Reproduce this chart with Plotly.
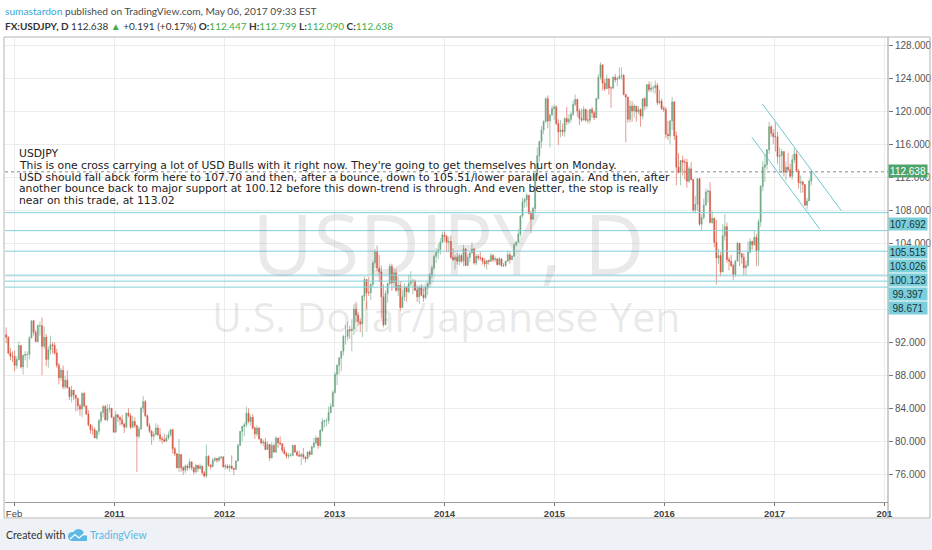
import plotly.graph_objects as go
import pandas as pd

# ---------------- data (weekly bars) ----------------
FIRST_OPEN = 92.9
FIRST_FRIDAY = "2010-01-08"

CLOSE_2010 = [92.6, 90.7, 90.3, 90.3, 89.2, 89.9, 91.6, 89.0, 90.4, 90.5, 90.5, 92.5, 94.6, 93.2, 92.1, 94.0, 94.0, 91.5, 92.6, 89.9, 91.1, 91.7, 91.6, 90.7, 89.2, 87.7, 88.6, 86.6, 87.4, 86.5, 85.4, 86.2, 85.6, 85.2, 84.3, 83.9, 85.8, 84.3, 83.3, 82.0, 81.4, 81.4, 80.4, 81.2, 82.5, 83.5, 84.2, 82.6, 83.9, 84.0, 82.9, 81.1]
HIGH_2010 = [93.8, 92.7, 91.3, 90.9, 91.0, 90.3, 92.1, 91.6, 90.5, 90.9, 90.9, 92.8, 94.6, 94.7, 93.5, 94.2, 94.5, 95.0, 93.9, 93.0, 91.5, 92.8, 92.0, 92.0, 91.2, 89.5, 88.9, 89.2, 87.9, 88.6, 86.6, 86.7, 86.0, 85.6, 85.2, 84.5, 85.9, 86.0, 84.3, 83.8, 82.1, 81.9, 81.7, 81.4, 82.7, 83.7, 84.4, 84.4, 84.5, 84.5, 84.0, 83.0]
LOW_2010 = [91.9, 90.5, 89.8, 89.6, 88.5, 88.8, 89.8, 88.8, 88.1, 89.8, 88.9, 89.9, 92.5, 92.8, 92.0, 92.0, 92.8, 88.0, 91.2, 89.1, 88.9, 90.5, 90.6, 90.5, 88.9, 86.9, 87.3, 86.3, 86.3, 86.4, 85.0, 84.7, 85.0, 83.6, 83.7, 83.1, 82.9, 84.1, 83.2, 81.8, 80.9, 80.8, 80.4, 80.2, 80.8, 82.2, 82.9, 82.5, 82.4, 83.5, 82.8, 81.1]

CLOSE_2011 = [83.2, 82.9, 82.6, 82.1, 81.7, 83.4, 83.1, 81.7, 82.4, 81.9, 80.6, 81.5, 84.0, 84.8, 83.1, 81.9, 81.2, 80.6, 80.8, 81.6, 80.8, 80.3, 80.2, 80.0, 80.4, 80.8, 81.4, 79.1, 78.5, 76.8, 78.4, 76.8, 76.5, 77.0, 76.8, 77.5, 76.8, 76.3, 77.1, 76.7, 77.0, 76.2, 75.8, 78.2, 77.1, 76.9, 77.7, 77.9, 77.7, 78.0, 78.1, 76.9]
HIGH_2011 = [83.7, 83.3, 83.0, 83.2, 82.2, 83.5, 84.0, 83.4, 83.1, 82.9, 82.0, 81.8, 84.2, 85.5, 85.0, 83.2, 82.2, 81.4, 81.2, 82.2, 82.0, 81.6, 80.6, 80.9, 80.8, 81.2, 81.5, 81.5, 79.3, 78.5, 80.3, 78.4, 77.0, 77.2, 77.2, 77.9, 77.6, 76.9, 77.2, 77.1, 77.3, 77.0, 76.4, 79.6, 78.3, 77.2, 78.0, 78.1, 78.0, 78.2, 78.2, 78.2]
LOW_2011 = [81.1, 82.3, 81.9, 81.9, 81.0, 81.6, 82.9, 81.5, 81.6, 81.6, 76.3, 80.3, 81.4, 83.5, 82.9, 81.7, 81.0, 79.6, 80.1, 80.9, 80.6, 80.0, 79.7, 79.9, 80.0, 80.2, 80.6, 78.5, 78.2, 76.7, 76.3, 76.3, 75.9, 76.1, 76.4, 76.6, 76.5, 76.0, 76.1, 76.3, 76.6, 75.9, 75.6, 75.6, 76.9, 76.6, 76.9, 77.5, 77.4, 77.5, 77.8, 76.8]

CLOSE_2012 = [77.0, 76.8, 77.0, 76.7, 76.6, 77.6, 79.5, 81.2, 81.8, 82.0, 83.4, 82.4, 82.9, 81.6, 80.9, 81.6, 80.3, 79.8, 79.9, 79.0, 79.6, 78.0, 79.5, 78.7, 80.4, 79.8, 79.7, 78.9, 78.5, 78.2, 78.3, 78.3, 79.5, 78.7, 78.3, 78.2, 78.4, 78.1, 77.9, 78.7, 78.4, 79.3, 79.8, 80.4, 79.5, 81.3, 82.4, 82.5, 82.5, 83.5, 84.2, 85.9]
HIGH_2012 = [77.2, 77.2, 77.2, 78.3, 76.8, 77.7, 79.7, 81.2, 81.9, 82.3, 84.2, 84.0, 83.2, 83.3, 81.8, 81.9, 81.7, 80.3, 80.2, 80.4, 80.0, 79.7, 79.9, 79.7, 80.6, 80.2, 80.6, 79.8, 79.3, 78.7, 78.6, 78.6, 79.6, 79.6, 78.9, 78.9, 78.6, 79.2, 78.1, 78.8, 78.9, 79.5, 80.4, 80.7, 80.5, 81.5, 82.8, 82.6, 82.8, 84.2, 84.6, 86.2]
LOW_2012 = [76.6, 76.6, 76.3, 76.6, 75.9, 76.5, 77.6, 79.5, 80.0, 80.6, 81.7, 82.2, 81.9, 81.4, 80.3, 80.6, 80.2, 79.6, 79.4, 78.9, 79.0, 77.6, 77.9, 78.6, 78.6, 79.2, 79.5, 78.6, 78.4, 77.9, 77.9, 78.1, 78.2, 78.6, 78.2, 78.1, 77.1, 77.8, 77.4, 77.8, 78.1, 78.4, 79.2, 79.6, 79.1, 79.3, 81.1, 81.7, 81.8, 82.1, 83.4, 84.6]

CLOSE_2013 = [88.1, 89.2, 90.1, 90.9, 92.7, 92.7, 93.5, 93.4, 93.6, 96.0, 95.3, 94.5, 94.2, 97.6, 99.6, 98.0, 98.0, 99.0, 101.6, 103.0, 101.0, 100.5, 97.5, 94.1, 97.9, 99.1, 101.2, 99.2, 100.4, 98.3, 98.9, 96.2, 97.5, 98.7, 98.1, 99.1, 99.4, 99.4, 98.3, 97.5, 98.6, 97.7, 97.4, 98.7, 99.1, 100.2, 101.0, 102.4, 102.9, 103.2, 104.1, 105.0]
HIGH_2013 = [88.4, 89.3, 90.2, 90.9, 92.9, 94.1, 94.5, 94.0, 94.8, 96.6, 96.7, 95.7, 94.9, 97.7, 99.9, 99.5, 99.9, 99.2, 101.9, 103.3, 103.7, 102.6, 101.3, 99.0, 98.3, 99.2, 101.5, 101.5, 100.9, 100.9, 99.9, 99.4, 98.4, 99.1, 98.8, 100.2, 100.6, 99.7, 99.6, 98.7, 98.8, 99.0, 98.5, 98.8, 99.2, 100.4, 101.3, 102.6, 103.4, 103.9, 104.6, 105.4]
LOW_2013 = [85.8, 86.8, 88.1, 88.5, 90.4, 91.7, 92.2, 92.4, 90.9, 92.9, 94.4, 94.0, 93.2, 92.6, 97.0, 96.0, 97.6, 97.1, 98.7, 101.0, 100.6, 99.3, 94.9, 93.8, 94.5, 96.8, 98.9, 98.2, 98.6, 98.1, 97.6, 95.8, 96.4, 97.0, 96.9, 97.9, 98.8, 97.8, 98.2, 96.9, 96.6, 97.6, 96.9, 97.2, 97.7, 98.9, 99.7, 100.8, 101.6, 102.1, 102.6, 104.0]

CLOSE_2014 = [104.8, 104.1, 104.2, 102.3, 102.0, 102.3, 101.8, 102.5, 101.8, 103.3, 101.3, 102.3, 102.8, 103.3, 101.6, 102.4, 102.2, 102.2, 101.8, 101.5, 101.9, 101.8, 102.5, 102.0, 102.1, 101.4, 102.1, 101.3, 101.3, 101.8, 102.6, 102.0, 102.4, 103.8, 104.1, 105.1, 107.3, 109.0, 109.3, 109.8, 107.6, 106.9, 108.2, 112.3, 114.6, 116.3, 117.7, 118.7, 121.5, 118.8, 119.5, 120.3]
HIGH_2014 = [105.4, 105.0, 104.8, 104.9, 103.4, 102.6, 102.8, 102.8, 102.7, 103.8, 103.4, 102.7, 102.9, 104.1, 103.4, 102.7, 102.7, 102.9, 102.3, 102.2, 101.9, 102.0, 102.8, 102.7, 102.4, 102.1, 102.3, 102.0, 101.6, 101.9, 103.1, 102.9, 102.6, 104.0, 104.3, 105.7, 107.4, 109.5, 109.5, 110.1, 109.3, 107.9, 108.4, 112.5, 115.6, 116.4, 118.2, 118.9, 121.7, 121.9, 119.7, 120.7]
LOW_2014 = [104.2, 102.9, 102.9, 102.1, 101.8, 100.8, 101.4, 101.3, 101.6, 101.2, 101.2, 101.2, 101.7, 102.8, 101.4, 101.3, 101.9, 101.9, 101.4, 101.1, 100.8, 101.4, 101.8, 101.7, 101.7, 101.3, 101.3, 101.1, 101.1, 101.1, 101.8, 101.5, 102.0, 102.4, 103.6, 104.1, 104.8, 107.1, 108.3, 108.4, 107.5, 105.2, 106.8, 107.6, 112.1, 113.9, 115.5, 117.2, 118.6, 117.9, 115.6, 119.5]

CLOSE_2015 = [120.5, 118.5, 117.5, 117.7, 117.5, 119.1, 118.7, 119.0, 119.6, 120.8, 121.4, 120.0, 119.1, 118.9, 120.2, 118.9, 118.9, 120.2, 119.8, 119.2, 121.5, 124.1, 125.6, 123.4, 122.7, 123.9, 122.8, 122.8, 124.1, 123.8, 123.9, 124.2, 124.3, 122.0, 121.7, 119.0, 120.6, 120.0, 120.6, 119.9, 120.2, 119.4, 121.5, 120.6, 123.2, 122.6, 122.8, 122.8, 123.1, 121.0, 121.2, 120.3]
HIGH_2015 = [120.8, 120.7, 119.0, 118.9, 118.5, 119.2, 120.5, 119.6, 119.9, 121.3, 122.0, 121.5, 120.3, 120.3, 120.6, 120.3, 120.1, 120.3, 120.5, 120.0, 121.6, 124.5, 125.9, 125.6, 123.9, 124.4, 123.9, 123.0, 124.2, 124.5, 124.2, 125.3, 125.3, 124.5, 122.0, 121.7, 121.3, 121.2, 120.9, 120.6, 120.6, 120.3, 121.5, 121.7, 123.3, 123.6, 123.5, 123.1, 123.7, 123.4, 122.6, 121.5]
LOW_2015 = [118.9, 118.3, 115.9, 116.8, 117.0, 116.9, 118.3, 118.4, 118.6, 119.4, 120.6, 119.3, 118.3, 118.7, 119.2, 118.7, 118.5, 118.5, 119.2, 118.9, 119.3, 121.4, 123.8, 122.5, 122.4, 122.7, 122.0, 120.4, 122.6, 123.5, 123.0, 123.9, 123.8, 121.9, 116.2, 118.6, 118.6, 118.7, 119.2, 118.7, 119.6, 118.1, 119.0, 120.1, 120.3, 122.3, 122.3, 122.2, 122.1, 120.7, 120.8, 120.1]

CLOSE_2016 = [120.2, 117.2, 117.0, 118.8, 121.1, 117.0, 113.2, 112.6, 114.0, 113.8, 113.8, 111.5, 113.0, 111.7, 108.0, 108.7, 111.8, 106.3, 107.1, 108.6, 110.2, 110.3, 106.5, 107.0, 104.1, 102.2, 102.5, 100.5, 104.9, 106.0, 102.0, 101.8, 101.3, 100.2, 101.8, 104.0, 102.7, 102.3, 101.0, 101.3, 102.9, 104.2, 103.8, 104.7, 103.1, 106.6, 110.9, 113.2, 113.5, 115.3, 118.1, 117.3, 116.9]
HIGH_2016 = [120.6, 120.5, 118.8, 118.9, 121.7, 121.2, 117.5, 114.9, 114.1, 114.6, 114.2, 114.2, 113.3, 113.8, 111.8, 109.7, 111.9, 111.9, 107.5, 109.4, 110.6, 110.5, 111.4, 107.9, 107.1, 106.8, 103.3, 102.9, 106.3, 107.5, 106.5, 102.3, 102.6, 101.5, 102.0, 104.2, 104.0, 102.8, 102.8, 101.9, 104.2, 104.6, 104.3, 105.5, 105.1, 106.9, 111.0, 113.9, 114.8, 115.4, 118.7, 118.3, 117.8]
LOW_2016 = [119.9, 116.7, 116.5, 116.0, 117.7, 116.5, 111.0, 112.4, 111.0, 112.2, 111.7, 110.7, 111.3, 111.6, 107.7, 107.6, 107.9, 106.1, 105.5, 106.9, 108.7, 108.9, 106.4, 106.3, 103.5, 99.0, 101.5, 100.0, 100.7, 104.3, 101.6, 100.7, 101.1, 99.5, 99.9, 101.8, 101.2, 101.5, 100.1, 100.1, 101.1, 102.8, 103.2, 103.7, 101.2, 101.2, 106.0, 110.3, 111.4, 112.9, 114.8, 116.9, 116.0]

CLOSE_2017 = [116.9, 114.5, 114.6, 115.1, 112.6, 113.2, 112.9, 112.1, 114.1, 114.8, 112.7, 111.3, 111.4, 111.1, 108.6, 109.1, 111.5, 112.64]
HIGH_2017 = [118.6, 117.5, 115.6, 115.4, 115.1, 113.9, 114.95, 113.6, 114.7, 115.5, 115.2, 113.0, 112.2, 111.6, 111.1, 109.5, 111.8, 112.8]
LOW_2017 = [115.1, 113.6, 112.6, 112.5, 112.1, 111.6, 112.6, 111.9, 111.7, 113.7, 112.6, 110.6, 110.1, 110.1, 108.5, 108.1, 109.3, 111.0]

# horizontal support levels and where their labels sit on the price scale (pixel centre)
LEVELS = [107.692, 105.515, 103.026, 100.123, 99.397, 98.671]
LEVEL_LABEL_Y = [224, 252, 266, 279.5, 293.5, 307.5]
LAST_PRICE = 112.638
LAST_LABEL_Y = 171

# drawn channel (trend lines)
CHANNEL_UPPER = [("2016-11-22", 120.85), ("2017-08-11", 107.93)]
CHANNEL_LOWER = [("2016-10-18", 116.82), ("2017-06-01", 105.68)]

Y_TICKS = [76, 80, 84, 88, 92, 96, 100, 104, 108, 112, 116, 120, 124, 128]
Y_TICKS_HIDDEN = [96, 100]   # covered by the level labels on the price scale
X_TICKS = ["2010-02-01", "2011-01-01", "2012-01-01", "2013-01-01", "2014-01-01",
           "2015-01-01", "2016-01-01", "2017-01-01", "2018-01-01"]
X_TICK_TEXT = ["Feb", "<b>2011</b>", "<b>2012</b>", "<b>2013</b>", "<b>2014</b>",
               "<b>2015</b>", "<b>2016</b>", "<b>2017</b>", "<b>201</b>"]

IDEA_LINES = [
    "USDJPY",
    "This is one cross carrying a lot of USD Bulls with it right now. They're going to get themselves hurt on Monday.",
    "USD should fall abck form here to 107.70 and then, after a bounce, down to 105.51/lower parallel again. And then, after",
    "another bounce back to major support at 100.12 before this down-trend is through. And even better, the stop is really",
    "near on this trade, at 113.02",
]

# ---------------- build bars ----------------
closes = CLOSE_2010 + CLOSE_2011 + CLOSE_2012 + CLOSE_2013 + CLOSE_2014 + CLOSE_2015 + CLOSE_2016 + CLOSE_2017
highs = HIGH_2010 + HIGH_2011 + HIGH_2012 + HIGH_2013 + HIGH_2014 + HIGH_2015 + HIGH_2016 + HIGH_2017
lows = LOW_2010 + LOW_2011 + LOW_2012 + LOW_2013 + LOW_2014 + LOW_2015 + LOW_2016 + LOW_2017
if not (len(closes) == len(highs) == len(lows)):
    raise SystemExit(f"length mismatch {len(closes)} {len(highs)} {len(lows)}")
opens = [FIRST_OPEN] + closes[:-1]
highs = [max(h, o, c) for h, o, c in zip(highs, opens, closes)]
lows = [min(l, o, c) for l, o, c in zip(lows, opens, closes)]
dates = pd.date_range(FIRST_FRIDAY, periods=len(closes), freq="W-FRI") - pd.Timedelta(days=2)

# ---------------- geometry helpers (pixel -> paper) ----------------
W, H = 932, 550
L, R, T, B = 5, 888, 38, 502


def PX(px):
    return (px - L) / (R - L)


def PY(py):
    return (B - py) / (B - T)


NARROW = "Liberation Sans Narrow, Liberation Sans, Arial"

fig = go.Figure()
fig.add_trace(go.Candlestick(
    x=dates, open=opens, high=highs, low=lows, close=closes,
    increasing=dict(line=dict(color="#6ba583", width=0.6), fillcolor="#6ba583"),
    decreasing=dict(line=dict(color="#d75442", width=0.6), fillcolor="#d75442"),
    whiskerwidth=0, showlegend=False, hoverinfo="skip"))

shapes = []
# footer background
shapes.append(dict(type="rect", xref="paper", yref="paper", x0=PX(-2), x1=PX(W + 2),
                   y0=PY(519), y1=PY(H + 2), fillcolor="#eef1f5", line=dict(width=0), layer="below"))
# outer frame
shapes.append(dict(type="rect", xref="paper", yref="paper", x0=PX(4), x1=PX(930),
                   y0=PY(518), y1=PY(37), line=dict(color="#b4b4b4", width=1)))
shapes.append(dict(type="line", xref="paper", yref="paper", x0=PX(888), x1=PX(888),
                   y0=PY(518), y1=PY(37), line=dict(color="#9c9c9c", width=1)))
# support levels
for v in LEVELS:
    shapes.append(dict(type="line", xref="paper", yref="y", x0=0, x1=1, y0=v, y1=v,
                       line=dict(color="#82d0da", width=1)))
# last price dotted line
shapes.append(dict(type="line", xref="paper", yref="y", x0=0, x1=1, y0=LAST_PRICE, y1=LAST_PRICE,
                   line=dict(color="#8a8a8a", width=1, dash="dot")))
# channel
for (d0, v0), (d1, v1) in [CHANNEL_UPPER, CHANNEL_LOWER]:
    shapes.append(dict(type="line", xref="x", yref="y", x0=d0, x1=d1, y0=v0, y1=v1,
                       line=dict(color="#6fc6d2", width=1)))
# TradingView logo (small cloud)
shapes.append(dict(type="circle", xref="paper", yref="paper", x0=PX(68), x1=PX(77), y0=PY(541), y1=PY(532),
                   fillcolor="#5cb8e4", line=dict(width=0)))
shapes.append(dict(type="circle", xref="paper", yref="paper", x0=PX(73), x1=PX(84), y0=PY(540), y1=PY(529),
                   fillcolor="#5cb8e4", line=dict(width=0)))
shapes.append(dict(type="rect", xref="paper", yref="paper", x0=PX(72), x1=PX(87), y0=PY(541), y1=PY(535.5),
                   fillcolor="#5cb8e4", line=dict(width=0)))
shapes.append(dict(type="path", xref="paper", yref="paper",
                   path="M {} {} L {} {} L {} {} L {} {}".format(PX(70), PY(539), PX(75), PY(534.5),
                                                                  PX(79), PY(538), PX(85), PY(533)),
                   line=dict(color="white", width=1.3)))

ann = []
# header
ann.append(dict(xref="paper", yref="paper", x=PX(4), y=PY(10.5), xanchor="left", yanchor="middle",
                showarrow=False, borderpad=0, font=dict(family="Lato", size=10.2, color="#4a4a4a"),
                text="<span style='color:#3aa5d8'>sumastardon</span> published on TradingView.com, May 06, 2017 09:33 EST"))
G = "#3fae49"
ann.append(dict(xref="paper", yref="paper", x=PX(4), y=PY(25.5), xanchor="left", yanchor="middle",
                showarrow=False, borderpad=0, font=dict(family="Lato", size=10, color="#333333"),
                text=("<b>FX:USDJPY, D</b> 112.638 <span style='color:%s'>▲</span> +0.191 (+0.17%%) "
                      "<b>O:</b><span style='color:%s'>112.447</span> <b>H:</b><span style='color:%s'>112.799</span> "
                      "<b>L:</b><span style='color:%s'>112.090</span> <b>C:</b><span style='color:%s'>112.638</span>")
                % (G, G, G, G, G)))
# watermark
ann.append(dict(xref="paper", yref="paper", x=PX(448), y=PY(242), xanchor="center", yanchor="middle",
                showarrow=False, text="USDJPY, D",
                font=dict(family="Open Sans", size=84, color="rgba(120,120,120,0.16)")))
ann.append(dict(xref="paper", yref="paper", x=PX(446), y=PY(316), xanchor="center", yanchor="middle",
                showarrow=False, text="U.S. Dollar/Japanese Yen",
                font=dict(family="Open Sans", size=41, color="rgba(120,120,120,0.16)")))
# idea text
IDEA_Y = [153.5, 165.3, 177.1, 188.9, 200.7]
for txt, py in zip(IDEA_LINES, IDEA_Y):
    ann.append(dict(xref="paper", yref="paper", x=PX(17.5), y=PY(py), xanchor="left", yanchor="middle",
                    showarrow=False, borderpad=0, text=txt,
                    font=dict(family="DejaVu Sans", size=10.8, color="#222222")))
# price scale labels
for v, py in zip(LEVELS, LEVEL_LABEL_Y):
    ann.append(dict(xref="paper", yref="paper", x=PX(888), y=PY(py), xanchor="left", yanchor="middle",
                    showarrow=False, text=f"{v:.3f}", bgcolor="#7ccfda", width=38, height=12, borderpad=0,
                    font=dict(family=NARROW, size=10, color="#13343a")))
ann.append(dict(xref="paper", yref="paper", x=PX(888), y=PY(LAST_LABEL_Y), xanchor="left", yanchor="middle",
                showarrow=False, text=f"{LAST_PRICE:.3f}", bgcolor="#4fa46c", width=38, height=12, borderpad=0,
                font=dict(family=NARROW, size=10, color="white")))
# footer
ann.append(dict(xref="paper", yref="paper", x=PX(5), y=PY(535), xanchor="left", yanchor="middle",
                showarrow=False, borderpad=0, text="Created with",
                font=dict(family="Lato", size=10.5, color="#333333")))
ann.append(dict(xref="paper", yref="paper", x=PX(89), y=PY(535), xanchor="left", yanchor="middle",
                showarrow=False, borderpad=0, text="TradingView",
                font=dict(family="Lato", size=10.5, color="#5cb8e4")))

fig.update_layout(
    width=W, height=H,
    margin=dict(l=L, r=W - R, t=T, b=H - B, pad=0),
    paper_bgcolor="white", plot_bgcolor="white",
    font=dict(family="Liberation Sans", size=10, color="#555555"),
    shapes=shapes, annotations=ann, showlegend=False,
    xaxis=dict(type="date", range=["2010-01-02", "2018-01-13"], rangeslider=dict(visible=False),
               tickvals=X_TICKS, ticktext=X_TICK_TEXT, ticks="outside", ticklen=3, tickcolor="#777777",
               tickfont=dict(family=NARROW, size=9.5, color="#444444"),
               showgrid=True, gridcolor="#ececec", gridwidth=1, automargin=False,
               showline=True, linecolor="#9c9c9c", linewidth=1, zeroline=False, fixedrange=True),
    yaxis=dict(side="right", range=[72.645, 128.848], tickvals=Y_TICKS,
               ticktext=["" if v in Y_TICKS_HIDDEN else f"{v:.3f}" for v in Y_TICKS],
               ticks="outside", ticklen=4, tickcolor="#777777",
               tickfont=dict(family=NARROW, size=10, color="#555555"),
               showgrid=True, gridcolor="#ececec", gridwidth=1, automargin=False,
               showline=False, zeroline=False, fixedrange=True),
)

fig.write_html("out.html", config={"displayModeBar": False},
               post_script="document.body.style.margin='0';document.body.style.overflow='hidden';")
